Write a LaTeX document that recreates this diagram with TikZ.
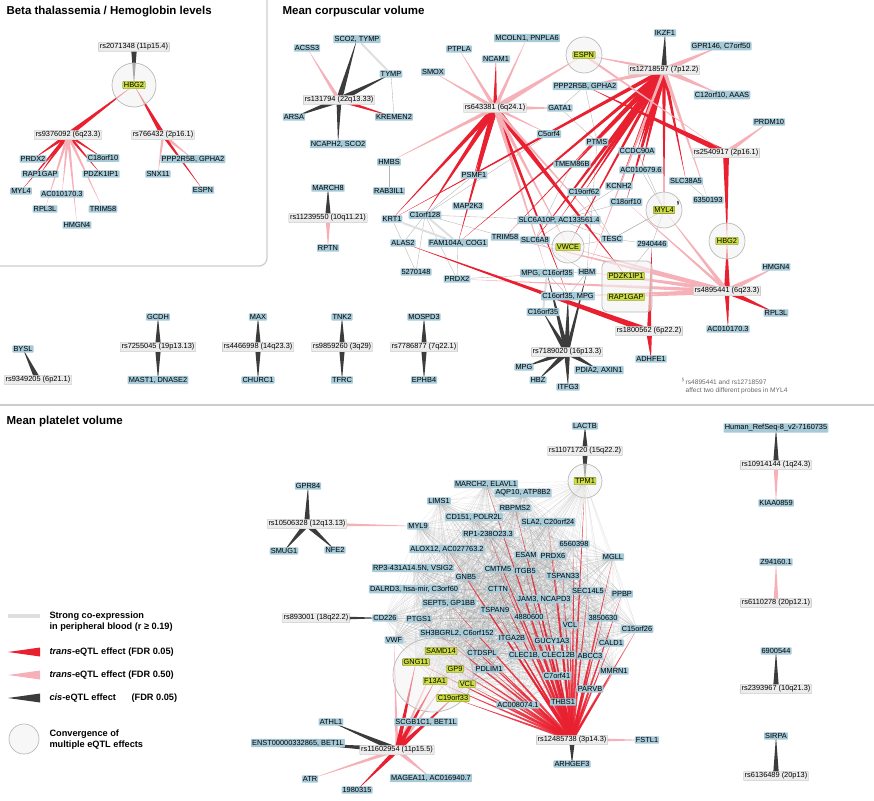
\documentclass[tikz,border=0pt]{standalone}
\usepackage{fontspec}
\setmainfont{Liberation Sans}
\usetikzlibrary{calc, positioning, shapes.geometric}
\pgfdeclarelayer{background}
\pgfdeclarelayer{back2}
\pgfsetlayers{back2,background,main}

\definecolor{genec}{RGB}{166,202,216}
\definecolor{snpc}{RGB}{236,236,236}
\definecolor{hlc}{RGB}{206,222,66}
\definecolor{trsred}{RGB}{232,32,48}
\definecolor{trspink}{RGB}{246,176,184}
\definecolor{cisc}{RGB}{60,60,60}

\tikzset{
  gene/.style={fill=genec, inner sep=1.1pt, rounded corners=0.8pt, font=\fontsize{7.4}{8}\selectfont},
  snp/.style={fill=snpc, draw=gray!55, line width=0.3pt, inner sep=1.3pt, rounded corners=0.8pt, font=\fontsize{7.4}{8}\selectfont},
  hl/.style={gene, fill=hlc, draw=hlc!55!black, line width=0.3pt},
  conv/.style={circle, fill=gray!10, fill opacity=0.6, draw=gray!55, line width=0.7pt, minimum size=#1},
  conv/.default=36pt,
  trs/.style={fill=trsred},
  trp/.style={fill=trspink},
  cis/.style={fill=cisc},
  coex/.style={draw=gray!60, line width=0.35pt},
  strong/.style={draw=gray!25, line width=2pt},
  hair/.style={draw=gray, line width=0.3pt, opacity=0.1},
  ttl/.style={font=\bfseries\fontsize{11.5}{13}\selectfont, anchor=west},
  lgd/.style={font=\bfseries\fontsize{9.2}{11}\selectfont, anchor=west, align=left}
}
% tapered eQTL edge: wide at the SNP, pointed at the gene
\newcommand\qtl[4][trs]{\fill[#1] ($(#2)!#4!90:(#3)$) -- ($(#2)!#4!-90:(#3)$) -- (#3.center) -- cycle;}

\begin{document}
\begin{tikzpicture}[x=1pt, y=-1pt]
\useasboundingbox (0,0) rectangle (874,800);

% Panel frames
\draw[gray!40, line width=1.2pt, rounded corners=8pt] (267,0) -- (267,266) -- (0,266);
\draw[gray!40, line width=1.2pt] (0,405) -- (874,405);
\node[ttl] at (3,12) {Beta thalassemia / Hemoglobin levels};
\node[ttl] at (279,12) {Mean corpuscular volume};
\node[ttl] at (3,422) {Mean platelet volume};

%%%%%%%% Beta thalassemia panel
\node[conv=44pt] (bcHBG2) at (134,85) {};
\node[snp] (rs2071348) at (134,47) {rs2071348 (11p15.4)};
\node[hl] (bHBG2) at (134,85) {HBG2};
\node[snp] (rs9376092) at (68,135) {rs9376092 (6q23.3)};
\node[snp] (rs766432) at (163,135) {rs766432 (2p16.1)};
\node[gene] (bPRDX2) at (33,159) {PRDX2};
\node[gene] (bC18orf10) at (103,158) {C18orf10};
\node[gene] (bRAP1GAP) at (40,174) {RAP1GAP};
\node[gene] (bPDZK1IP1) at (101,174) {PDZK1IP1};
\node[gene] (bMYL4) at (21,191) {MYL4};
\node[gene] (bAC010170) at (62,194) {AC010170.3};
\node[gene] (bRPL3L) at (45,209) {RPL3L};
\node[gene] (bTRIM58) at (103,209) {TRIM58};
\node[gene] (bHMGN4) at (77,225) {HMGN4};
\node[gene] (bPPP2R5B) at (193,159) {PPP2R5B, GPHA2};
\node[gene] (bSNX11) at (158,174) {SNX11};
\node[gene] (bESPN) at (203,190) {ESPN};

%%%%%%%% Mean corpuscular volume panel
\node[gene] (ACSS3) at (307,48) {ACSS3};
\node[gene] (SCO2TYMP) at (357,39) {SCO2, TYMP};
\node[gene] (TYMP) at (391,74) {TYMP};
\node[snp] (rs131794) at (339,100) {rs131794 (22q13.33)};
\node[gene] (ARSA) at (294,117) {ARSA};
\node[gene] (KREMEN2) at (394,117) {KREMEN2};
\node[gene] (NCAPH2) at (338,144) {NCAPH2, SCO2};
\node[gene] (PTPLA) at (459,49) {PTPLA};
\node[gene] (MCOLN1) at (527,38) {MCOLN1, PNPLA6};
\node[gene] (NCAM1) at (496,59) {NCAM1};
\node[gene] (SMOX) at (433,72) {SMOX};
\node[snp] (rs643381) at (495,108) {rs643381 (6q24.1)};
\node[conv] (cESPN) at (584,55) {};
\node[hl] (ESPN) at (584,55) {ESPN};
\node[gene] (PPP2R5B) at (585,86) {PPP2R5B, GPHA2};
\node[gene] (GATA1) at (560,108) {GATA1};
\node[gene] (IKZF1) at (665,33) {IKZF1};
\node[gene] (GPR146) at (721,46) {GPR146, C7orf50};
\node[snp] (rs12718597) at (664,70) {rs12718597 (7p12.2)};
\node[gene] (C12orf10) at (722,95) {C12orf10, AAAS};
\node[gene] (PRDM10) at (769,122) {PRDM10};
\node[snp] (rs2540917) at (726,153) {rs2540917 (2p16.1)};
\node[gene] (C5orf4) at (549,134) {C5orf4};
\node[gene] (PTMS) at (597,142) {PTMS};
\node[gene] (CCDC90A) at (637,151) {CCDC90A};
\node[gene] (AC010679) at (641,170) {AC010679.6};
\node[gene] (SLC38A5) at (686,181) {SLC38A5};
\node[gene] (n6350193) at (708,200) {6350193};
\node[gene] (TMEM86B) at (572,164) {TMEM86B};
\node[gene] (KCNH2) at (619,186) {KCNH2};
\node[gene] (C19orf62) at (584,192) {C19orf62};
\node[gene] (C18orf10) at (626,202) {C18orf10};
\node[conv] (cMYL4) at (664,210) {};
\node[hl] (MYL4) at (664,210) {MYL4};
\node[font=\fontsize{4.5}{5}\selectfont\bfseries] (sect) at (678,203) {\S};
\node[conv] (cHBG2) at (727,241) {};
\node[hl] (HBG2) at (727,241) {HBG2};
\node[gene] (HMBS) at (389,162) {HMBS};
\node[gene] (RAB3IL1) at (389,191) {RAB3IL1};
\node[gene] (PSMF1) at (474,175) {PSMF1};
\node[gene] (MAP2K3) at (468,206) {MAP2K3};
\node[gene] (MARCH8) at (328,188) {MARCH8};
\node[snp] (rs11239550) at (328,218) {rs11239550 (10q11.21)};
\node[gene] (RPTN) at (328,248) {RPTN};
\node[gene] (KRT1) at (392,219) {KRT1};
\node[gene] (C1orf128) at (425,215) {C1orf128};
\node[gene] (SLC6A10P) at (559,220) {SLC6A10P, AC133561.4};
\node[gene] (TRIM58) at (505,237) {TRIM58};
\node[gene] (SLC6A8) at (535,240) {SLC6A8};
\node[conv=32pt] (cVWCE) at (568,247) {};
\node[hl] (VWCE) at (568,247) {VWCE};
\node[gene] (TESC) at (612,239) {TESC};
\node[gene] (n2940446) at (652,244) {2940446};
\node[gene] (ALAS2) at (403,243) {ALAS2};
\node[gene] (FAM104A) at (458,243) {FAM104A, COG1};
\node[gene] (n5270148) at (416,272) {5270148};
\node[gene] (PRDX2) at (457,279) {PRDX2};
\node[gene] (MPGC16) at (547,273) {MPG, C16orf35};
\node[gene] (HBM) at (587,272) {HBM};
\node[fill=gray!10, fill opacity=0.6, draw=gray!55, line width=0.7pt, rounded corners=6pt, minimum width=50pt, minimum height=51pt] (cPDZK) at (627,286.5) {};
\node[hl] (PDZK1IP1) at (626,276) {PDZK1IP1};
\node[hl] (RAP1GAP) at (626,297) {RAP1GAP};
\node[gene] (HMGN4) at (776,267) {HMGN4};
\node[snp] (rs4895441) at (727,291) {rs4895441 (6q23.3)};
\node[gene] (RPL3L) at (776,313) {RPL3L};
\node[gene] (AC010170) at (728,329) {AC010170.3};
\node[gene] (C16MPG) at (568,296) {C16orf35, MPG};
\node[gene] (C16orf35) at (543,312) {C16orf35};
\node[snp] (rs1800562) at (649,331) {rs1800562 (6p22.2)};
\node[gene] (ADHFE1) at (651,359) {ADHFE1};
\node[snp] (rs7189020) at (567,352) {rs7189020 (16p13.3)};
\node[gene] (MPG) at (524,367) {MPG};
\node[gene] (HBZ) at (538,380) {HBZ};
\node[gene] (ITFG3) at (568,387) {ITFG3};
\node[gene] (PDIA2) at (599,370) {PDIA2, AXIN1};
\node[gene] (BYSL) at (23,349) {BYSL};
\node[snp] (rs9349205) at (38,380) {rs9349205 (6p21.1)};
\node[gene] (GCDH) at (158,317) {GCDH};
\node[snp] (rs7255045) at (158,347) {rs7255045 (19p13.13)};
\node[gene] (MAST1) at (158,380) {MAST1, DNASE2};
\node[gene] (MAX) at (258,317) {MAX};
\node[snp] (rs4466998) at (258,347) {rs4466998 (14q23.3)};
\node[gene] (CHURC1) at (258,380) {CHURC1};
\node[gene] (TNK2) at (342,317) {TNK2};
\node[snp] (rs9859260) at (342,347) {rs9859260 (3q29)};
\node[gene] (TFRC) at (342,380) {TFRC};
\node[gene] (MOSPD3) at (424,317) {MOSPD3};
\node[snp] (rs7786877) at (424,347) {rs7786877 (7q22.1)};
\node[gene] (EPHB4) at (424,380) {EPHB4};
\node[font=\fontsize{6.6}{7.8}\selectfont, text=gray!80!black, align=left, anchor=west] (note) at (678,386) {\textsuperscript{\S}\,rs4895441 and rs12718597\\\hphantom{\textsuperscript{\S}\,}affect two different probes in MYL4};

%%%%%%%% Mean platelet volume panel
\node[gene] (LACTB) at (585,426) {LACTB};
\node[snp] (rs11071720) at (585,451) {rs11071720 (15q22.2)};
\node[conv=34pt] (cTPM1) at (585,481) {};
\node[hl] (TPM1) at (585,481) {TPM1};
\node[gene] (GPR84) at (308,486) {GPR84};
\node[snp] (rs10506328) at (307,524) {rs10506328 (12q13.13)};
\node[gene] (SMUG1) at (284,551) {SMUG1};
\node[gene] (NFE2) at (335,550) {NFE2};
\node[gene] (MYL9) at (418,526) {MYL9};
\node[ellipse, draw=gray!55, fill=gray!10, fill opacity=0.5, line width=0.7pt, minimum width=80pt, minimum height=74pt] (cGNG) at (433,675) {};
\node[gene] (MARCH2) at (486,484) {MARCH2, ELAVL1};
\node[gene] (AQP10) at (523,493) {AQP10, ATP8B2};
\node[gene] (LIMS1) at (439,501) {LIMS1};
\node[gene] (RBPMS2) at (515,508) {RBPMS2};
\node[gene] (CD151) at (474,517) {CD151, POLR2L};
\node[gene] (SLA2) at (548,522) {SLA2, C20orf24};
\node[gene] (RP1) at (488,534) {RP1-238O23.3};
\node[gene] (ALOX12) at (447,549) {ALOX12, AC027763.2};
\node[gene] (n6560398) at (574,544) {6560398};
\node[gene] (ESAM) at (526,555) {ESAM};
\node[gene] (PRDX6) at (553,556) {PRDX6};
\node[gene] (MGLL) at (613,557) {MGLL};
\node[gene] (RP3) at (413,568) {RP3-431A14.5N, VSIG2};
\node[gene] (GNB5) at (466,577) {GNB5};
\node[gene] (CMTM5) at (498,569) {CMTM5};
\node[gene] (ITGB5) at (525,571) {ITGB5};
\node[gene] (TSPAN33) at (563,576) {TSPAN33};
\node[gene] (DALRD3) at (414,589) {DALRD3, hsa-mir, C3orf60};
\node[gene] (CTTN) at (498,589) {CTTN};
\node[gene] (SEC14L5) at (588,591) {SEC14L5};
\node[gene] (PPBP) at (622,594) {PPBP};
\node[gene] (JAM3) at (544,599) {JAM3, NCAPD3};
\node[gene] (SEPT5) at (449,603) {SEPT5, GP1BB};
\node[gene] (TSPAN9) at (495,610) {TSPAN9};
\node[snp] (rs893001) at (316,618) {rs893001 (18q22.2)};
\node[gene] (CD226) at (385,618) {CD226};
\node[gene] (PTGS1) at (419,619) {PTGS1};
\node[gene] (n4880600) at (529,617) {4880600};
\node[gene] (n3850630) at (603,618) {3850630};
\node[gene] (VCLa) at (570,625) {VCL};
\node[gene] (C15orf26) at (637,629) {C15orf26};
\node[gene] (SH3BGRL2) at (457,633) {SH3BGRL2, C6orf152};
\node[gene] (ITGA2B) at (512,638) {ITGA2B};
\node[gene] (GUCY1A3) at (552,641) {GUCY1A3};
\node[gene] (CALD1) at (611,643) {CALD1};
\node[gene] (VWF) at (394,640) {VWF};
\node[gene] (CTDSPL) at (482,653) {CTDSPL};
\node[gene] (CLEC1B) at (542,655) {CLEC1B, CLEC12B};
\node[gene] (ABCC3) at (590,656) {ABCC3};
\node[gene] (PDLIM1) at (489,669) {PDLIM1};
\node[gene] (MMRN1) at (614,671) {MMRN1};
\node[gene] (C7orf41) at (557,676) {C7orf41};
\node[gene] (PARVB) at (590,689) {PARVB};
\node[gene] (AC008074) at (518,705) {AC008074.1};
\node[gene] (THBS1) at (563,702) {THBS1};
\node[hl] (SAMD14) at (441,651) {SAMD14};
\node[hl] (GNG11) at (416,662) {GNG11};
\node[hl] (GP9) at (455,669) {GP9};
\node[hl] (F13A1) at (435,681) {F13A1};
\node[hl] (VCLb) at (467,684) {VCL};
\node[hl] (C19orf33) at (453,698) {C19orf33};
\node[gene] (SCGB1C1) at (426,722) {SCGB1C1, BET1L};
\node[gene] (ATHL1) at (331,722) {ATHL1};
\node[gene] (ENST) at (298,743) {ENST00000332865, BET1L};
\node[snp] (rs11602954) at (397,750) {rs11602954 (11p15.5)};
\node[gene] (ATR) at (310,779) {ATR};
\node[gene] (n1980315) at (357,790) {1980315};
\node[gene] (MAGEA11) at (431,778) {MAGEA11, AC016940.7};
\node[snp] (rs12485738) at (572,740) {rs12485738 (3p14.3)};
\node[gene] (FSTL1) at (647,740) {FSTL1};
\node[gene] (ARHGEF3) at (572,764) {ARHGEF3};
\node[gene] (HumanRefSeq) at (776,428) {Human\_RefSeq-8\_v2-7160735};
\node[snp] (rs10914144) at (776,465) {rs10914144 (1q24.3)};
\node[gene] (KIAA0859) at (776,503) {KIAA0859};
\node[gene] (Z94160) at (776,562) {Z94160.1};
\node[snp] (rs6110278) at (776,603) {rs6110278 (20p12.1)};
\node[gene] (n6900544) at (776,651) {6900544};
\node[snp] (rs2393967) at (776,689) {rs2393967 (10q21.3)};
\node[gene] (SIRPA) at (776,736) {SIRPA};
\node[snp] (rs6136489) at (776,776) {rs6136489 (20p13)};

% Legend
\coordinate (lgA) at (8,616);
\coordinate (lgB) at (40,616);
\draw[strong, line width=4pt] (lgA) -- (lgB);
\node[lgd] (lg1) at (46,622) {Strong co-expression\\in peripheral blood (r ≥ 0.19)};
\foreach \y/\s/\t in {652/trs/{\textit{trans}-eQTL effect (FDR 0.05)}, 675/trp/{\textit{trans}-eQTL effect (FDR 0.50)}, 698/cis/{\textit{cis}-eQTL effect\hspace{1.7em}(FDR 0.05)}} {
  \coordinate (lgw) at (40,\y);
  \coordinate (lgt) at (8,\y);
  \fill[\s] ($(lgw)!4.5pt!90:(lgt)$) -- ($(lgw)!4.5pt!-90:(lgt)$) -- (lgt) -- cycle;
  \node[lgd] at (46,\y) {\t};
}
\node[conv=30pt] (lgc) at (24,739) {};
\node[lgd] (lg5) at (46,740) {Convergence of\\multiple eQTL effects};

%%%%%%%% Edges
\begin{pgfonlayer}{back2}
% platelet co-expression hairball
\def\hairlist{TPM1,MYL9,MARCH2,AQP10,LIMS1,RBPMS2,CD151,SLA2,RP1,ALOX12,n6560398,ESAM,PRDX6,MGLL,RP3,GNB5,CMTM5,ITGB5,TSPAN33,DALRD3,CTTN,SEC14L5,PPBP,JAM3,SEPT5,TSPAN9,CD226,PTGS1,n4880600,n3850630,VCLa,C15orf26,SH3BGRL2,ITGA2B,GUCY1A3,CALD1,VWF,CTDSPL,CLEC1B,ABCC3,PDLIM1,MMRN1,C7orf41,PARVB,AC008074,THBS1,SAMD14,GNG11,GP9,F13A1,VCLb,C19orf33}
\foreach \a in \hairlist {\foreach \b in \hairlist {\draw[hair] (\a.center) -- (\b.center);}}
\end{pgfonlayer}

\begin{pgfonlayer}{background}
% co-expression between erythroid genes
\draw[strong] (SCO2TYMP) -- (TYMP);
\foreach \a/\b in {TYMP/KREMEN2, HMBS/RAB3IL1, KRT1/ALAS2, C1orf128/ALAS2, C1orf128/n5270148, C1orf128/PRDX2, ALAS2/n5270148, FAM104A/PRDX2, C1orf128/TRIM58, PSMF1/C1orf128, C5orf4/C1orf128, GATA1/PTMS, PPP2R5B/GATA1, PPP2R5B/PTMS, PTMS/HBM, TMEM86B/SLC6A8, SLC6A10P/TESC, TESC/MYL4, C18orf10/SLC6A10P, MYL4/n2940446, MYL4/TESC, AC010679/MYL4, SLC6A8/HBM, VWCE/TESC, MPGC16/C16MPG, HBM/C16MPG, TRIM58/VWCE, n2940446/PDZK1IP1, TESC/n2940446, CCDC90A/MYL4, KCNH2/SLC6A8, SLC38A5/n6350193, C19orf62/TESC, C1orf128/SLC6A10P, PRDX2/HBM}
  {\draw[coex] (\a) -- (\b);}
\draw[strong] (C1orf128) -- (FAM104A);
\draw[strong] (MPGC16) -- (C16orf35);
\draw[strong] (KRT1) -- (FAM104A);

% Beta thalassemia
\qtl[cis]{rs2071348}{bHBG2}{3pt}
\qtl{rs9376092}{bHBG2}{2.5pt}
\qtl{rs766432}{bHBG2}{2.5pt}
\foreach \g/\w in {bPRDX2/2pt, bC18orf10/1.5pt, bRAP1GAP/2pt, bMYL4/1.5pt, bPDZK1IP1/1.5pt}
  {\qtl{rs9376092}{\g}{\w}}
\foreach \g in {bAC010170, bRPL3L, bTRIM58, bHMGN4}
  {\qtl[trp]{rs9376092}{\g}{1.5pt}}
\qtl[trp]{rs766432}{bPPP2R5B}{2pt}
\qtl[trp]{rs766432}{bSNX11}{1.5pt}
\qtl{rs766432}{bESPN}{1.5pt}

% MCV cis effects
\foreach \g/\w in {SCO2TYMP/3pt, TYMP/3pt, ARSA/3pt, NCAPH2/2.5pt}
  {\qtl[cis]{rs131794}{\g}{\w}}
\qtl{rs131794}{KREMEN2}{2pt}
\qtl[trp]{rs131794}{ACSS3}{2pt}
\qtl[cis]{rs12718597}{IKZF1}{3pt}
\qtl[cis]{rs11239550}{MARCH8}{3pt}
\qtl[trp]{rs11239550}{RPTN}{2.5pt}
\foreach \g/\w in {MPG/3pt, HBZ/3pt, ITFG3/3pt, PDIA2/3pt, C16orf35/3pt, C16MPG/3pt, MPGC16/2.5pt, HBM/2pt}
  {\qtl[cis]{rs7189020}{\g}{\w}}
\qtl[cis]{rs9349205}{BYSL}{3pt}
\foreach \s/\a/\b in {rs7255045/GCDH/MAST1, rs4466998/MAX/CHURC1, rs9859260/TNK2/TFRC, rs7786877/MOSPD3/EPHB4} {
  \qtl[cis]{\s}{\a}{3pt}
  \qtl[cis]{\s}{\b}{3pt}
}
% MCV trans effects
\foreach \g/\w in {NCAM1/2pt, PSMF1/3pt, MAP2K3/3pt, KRT1/2.5pt, C1orf128/3pt, FAM104A/2.5pt, PDZK1IP1/3pt, C16MPG/2pt}
  {\qtl{rs643381}{\g}{\w}}
\foreach \g/\w in {PTPLA/2pt, SMOX/2pt, MCOLN1/2pt, ESPN/3pt, GATA1/3pt, HMBS/2pt, C5orf4/1.5pt, VWCE/2pt, MPGC16/2pt, TESC/1.5pt}
  {\qtl[trp]{rs643381}{\g}{\w}}
\foreach \g/\w in {KRT1/2pt, TMEM86B/3pt, C19orf62/3pt, SLC6A10P/3pt, KCNH2/3pt, C18orf10/3pt, MYL4/2pt, SLC38A5/2pt, CCDC90A/3pt, PTMS/3pt, FAM104A/2pt, SLC6A8/3pt, AC010679/3pt, TRIM58/1.5pt, VWCE/2pt}
  {\qtl{rs12718597}{\g}{\w}}
\foreach \g/\w in {GPR146/3pt, C12orf10/3pt, ESPN/2pt, PPP2R5B/3pt, n6350193/2pt, HBM/1.5pt}
  {\qtl[trp]{rs12718597}{\g}{\w}}
\qtl{rs2540917}{HBG2}{3pt}
\qtl{rs2540917}{PPP2R5B}{3pt}
\qtl[trp]{rs2540917}{PRDM10}{2.5pt}
\qtl[trp]{ESPN}{rs2540917}{1.2pt}
\foreach \g/\w in {HBG2/3pt, RPL3L/3pt, AC010170/2.5pt}
  {\qtl{rs4895441}{\g}{\w}}
\foreach \g/\w in {HMGN4/3pt, PDZK1IP1/3pt, RAP1GAP/3pt, MYL4/2pt, PRDX2/2pt, C18orf10/1.5pt, TRIM58/2pt, VWCE/2pt, HBM/2pt, C16MPG/2pt}
  {\qtl[trp]{rs4895441}{\g}{\w}}
\qtl{rs1800562}{ALAS2}{3pt}
\qtl{rs1800562}{ADHFE1}{3pt}
\qtl{rs1800562}{n2940446}{2pt}

% platelet effects
\foreach \g in {GPR84, SMUG1, NFE2}
  {\qtl[cis]{rs10506328}{\g}{3pt}}
\qtl[trp]{rs10506328}{MYL9}{2pt}
\qtl[cis]{rs893001}{CD226}{2.5pt}
\qtl[cis]{rs11071720}{LACTB}{3pt}
\qtl[cis]{rs11071720}{TPM1}{3pt}
\foreach \g in {ATHL1, ENST, SCGB1C1}
  {\qtl[cis]{rs11602954}{\g}{3pt}}
\foreach \g/\w in {ATR/2pt, MAGEA11/2.5pt, VWF/1.5pt, SAMD14/1.5pt, GP9/1.5pt, VCLb/1.5pt}
  {\qtl[trp]{rs11602954}{\g}{\w}}
\foreach \g/\w in {n1980315/2.5pt, GNG11/2.5pt, F13A1/2.5pt, C19orf33/2.5pt}
  {\qtl{rs11602954}{\g}{\w}}
\qtl[cis]{rs12485738}{ARHGEF3}{3pt}
\qtl[trp]{rs12485738}{FSTL1}{2.5pt}
\foreach \g in {TPM1,MARCH2,RBPMS2,SLA2,RP1,n6560398,ESAM,PRDX6,MGLL,GNB5,CMTM5,ITGB5,TSPAN33,CTTN,SEC14L5,PPBP,JAM3,SEPT5,TSPAN9,n4880600,n3850630,VCLa,C15orf26,SH3BGRL2,ITGA2B,GUCY1A3,CALD1,CTDSPL,CLEC1B,ABCC3,PDLIM1,MMRN1,C7orf41,PARVB,AC008074,THBS1,SAMD14,GNG11,GP9,F13A1,VCLb,C19orf33,PTGS1,ALOX12}
  {\qtl[fill=trsred, opacity=0.85]{rs12485738}{\g}{1.4pt}}
\qtl[cis]{rs10914144}{HumanRefSeq}{3pt}
\qtl[trp]{rs10914144}{KIAA0859}{2.5pt}
\qtl[trp]{rs6110278}{Z94160}{2.5pt}
\qtl[cis]{rs2393967}{n6900544}{3pt}
\qtl[cis]{rs6136489}{SIRPA}{3pt}
\end{pgfonlayer}
\end{tikzpicture}
\end{document}
